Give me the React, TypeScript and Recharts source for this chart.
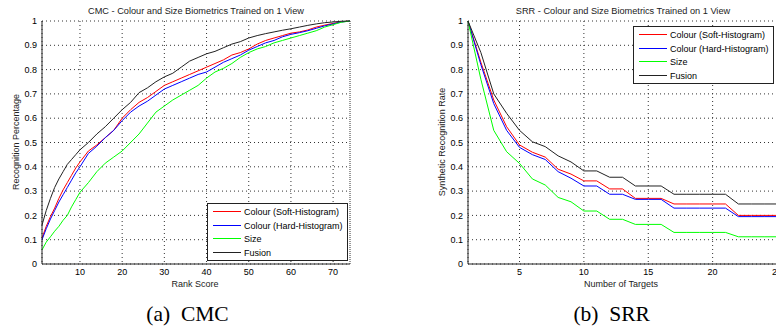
import React from 'react';
import { LineChart, Line, XAxis, YAxis, CartesianGrid, ReferenceLine } from 'recharts';

// CMC - recognition percentage per rank score
const rankScores = [1, 2, 3, 4, 5, 6, 7, 8, 9, 10, 12, 14, 16, 18, 20, 22, 24, 26, 28, 30, 32, 34, 36, 38, 40, 42, 44, 46, 48, 50, 52, 54, 56, 58, 60, 62, 64, 66, 68, 70, 72, 74];
const cmcSoft = [0.107, 0.155, 0.195, 0.23, 0.27, 0.305, 0.335, 0.365, 0.395, 0.42, 0.465, 0.49, 0.52, 0.55, 0.6, 0.635, 0.665, 0.685, 0.71, 0.735, 0.75, 0.765, 0.78, 0.795, 0.81, 0.825, 0.84, 0.86, 0.87, 0.885, 0.905, 0.92, 0.93, 0.94, 0.95, 0.955, 0.963, 0.975, 0.983, 0.99, 0.997, 1];
const cmcHard = [0.1, 0.145, 0.185, 0.22, 0.255, 0.285, 0.315, 0.345, 0.375, 0.4, 0.455, 0.485, 0.52, 0.55, 0.59, 0.625, 0.65, 0.67, 0.695, 0.72, 0.735, 0.75, 0.765, 0.78, 0.79, 0.81, 0.83, 0.845, 0.86, 0.88, 0.895, 0.91, 0.92, 0.935, 0.945, 0.952, 0.96, 0.97, 0.98, 0.988, 0.996, 1];
const cmcSize = [0.058, 0.09, 0.112, 0.135, 0.155, 0.18, 0.2, 0.235, 0.265, 0.295, 0.335, 0.38, 0.415, 0.44, 0.465, 0.5, 0.535, 0.58, 0.625, 0.65, 0.675, 0.695, 0.715, 0.735, 0.765, 0.79, 0.805, 0.825, 0.85, 0.87, 0.885, 0.895, 0.91, 0.92, 0.93, 0.94, 0.95, 0.96, 0.975, 0.985, 0.995, 1];
const cmcFusion = [0.16, 0.22, 0.27, 0.315, 0.35, 0.38, 0.41, 0.43, 0.45, 0.47, 0.5, 0.535, 0.565, 0.6, 0.635, 0.665, 0.705, 0.725, 0.75, 0.77, 0.785, 0.81, 0.835, 0.85, 0.865, 0.875, 0.89, 0.905, 0.915, 0.93, 0.94, 0.948, 0.955, 0.962, 0.968, 0.975, 0.982, 0.988, 0.993, 0.996, 0.999, 1];

// SRR - synthetic recognition rate per number of targets
const targetCounts = [1, 2, 3, 4, 5, 6, 7, 8, 9, 10, 11, 12, 13, 14, 15, 16, 17, 18, 19, 20, 21, 22, 23, 24, 25];
const srrSoft = [1, 0.83, 0.675, 0.565, 0.49, 0.46, 0.44, 0.39, 0.37, 0.342, 0.342, 0.309, 0.309, 0.27, 0.27, 0.27, 0.247, 0.247, 0.247, 0.247, 0.247, 0.2, 0.2, 0.2, 0.2];
const srrHard = [1, 0.82, 0.66, 0.55, 0.48, 0.45, 0.43, 0.38, 0.353, 0.321, 0.321, 0.287, 0.287, 0.266, 0.266, 0.266, 0.23, 0.23, 0.23, 0.23, 0.23, 0.195, 0.195, 0.195, 0.195];
const srrSize = [1, 0.76, 0.55, 0.462, 0.414, 0.35, 0.325, 0.274, 0.256, 0.218, 0.218, 0.184, 0.184, 0.163, 0.163, 0.163, 0.13, 0.13, 0.13, 0.13, 0.13, 0.112, 0.112, 0.112, 0.112];
const srrFusion = [1, 0.87, 0.7, 0.62, 0.55, 0.503, 0.483, 0.445, 0.42, 0.383, 0.383, 0.357, 0.357, 0.321, 0.321, 0.321, 0.287, 0.287, 0.287, 0.287, 0.287, 0.247, 0.247, 0.247, 0.247];

const yTicks = [0, 0.1, 0.2, 0.3, 0.4, 0.5, 0.6, 0.7, 0.8, 0.9, 1];
const rankTicks = [10, 20, 30, 40, 50, 60, 70];
const targetTicks = [5, 10, 15, 20, 25];
const rankMax = 74;

const series = [
  { key: 'soft', name: 'Colour (Soft-Histogram)', color: '#ff0000' },
  { key: 'hard', name: 'Colour (Hard-Histogram)', color: '#0000ff' },
  { key: 'size', name: 'Size', color: '#00ff00' },
  { key: 'fusion', name: 'Fusion', color: '#222222' },
];

const cmcData = rankScores.map((rank, i) => ({
  x: rank,
  soft: cmcSoft[i],
  hard: cmcHard[i],
  size: cmcSize[i],
  fusion: cmcFusion[i],
}));

const srrData = targetCounts.map((n, i) => ({
  x: n,
  soft: srrSoft[i],
  hard: srrHard[i],
  size: srrSize[i],
  fusion: srrFusion[i],
}));

const FONT = '"Liberation Sans", Arial, Helvetica, sans-serif';
const tickStyle = { fill: '#000', fontSize: 9, fontFamily: FONT };
const gridDash = '1 3';
// legend rows alternate 14/13 px so every swatch lands on a whole pixel
const rowHeights = [14, 13, 14, 13];

const LegendBox = ({ left, top }: { left: number; top: number }) => (
  <div
    style={{
      position: 'absolute',
      left,
      top,
      width: 139,
      height: 55,
      border: '1px solid #222',
      background: '#fff',
      fontFamily: FONT,
      fontSize: 9,
      color: '#000',
      paddingTop: 1,
    }}
  >
    {series.map((s, i) => (
      <div key={s.key} style={{ display: 'flex', alignItems: 'center', height: rowHeights[i] }}>
        <svg width={28} height={2} style={{ marginLeft: 5, display: 'block' }} shapeRendering="crispEdges">
          <rect x={0} y={0} width={28} height={1} fill={s.color} />
        </svg>
        <span style={{ marginLeft: 3, whiteSpace: 'nowrap', lineHeight: '12px' }}>{s.name}</span>
      </div>
    ))}
  </div>
);

const textAbs = (extra: React.CSSProperties): React.CSSProperties => ({
  position: 'absolute',
  fontFamily: FONT,
  fontSize: 9,
  lineHeight: '12px',
  color: '#222',
  textAlign: 'center',
  whiteSpace: 'nowrap',
  ...extra,
});

const captionStyle = (left: number): React.CSSProperties => ({
  position: 'absolute',
  left,
  width: 200,
  top: 303.7,
  textAlign: 'center',
  fontFamily: '"Liberation Serif", "Times New Roman", serif',
  fontSize: 21.5,
  lineHeight: 1,
  whiteSpace: 'pre',
  color: '#000',
});

const renderLines = () =>
  series.map((s) => (
    <Line
      key={s.key}
      type="linear"
      dataKey={s.key}
      name={s.name}
      stroke={s.color}
      strokeWidth={1}
      dot={false}
      isAnimationActive={false}
    />
  ));

const App: React.FC = () => {
  return (
    <div
      style={{
        position: 'fixed',
        left: 0,
        top: 0,
        width: 776,
        height: 332,
        overflow: 'hidden',
        background: '#fff',
      }}
    >
      {/* (a) CMC */}
      <div style={{ position: 'absolute', left: 0, top: 0 }}>
        <LineChart width={390} height={300} data={cmcData} margin={{ top: 21, right: 40, bottom: 16, left: 0 }}>
          <CartesianGrid stroke="#333" strokeDasharray={gridDash} />
          <XAxis
            dataKey="x"
            type="number"
            domain={[1, rankMax]}
            ticks={rankTicks}
            interval={0}
            height={20}
            tickLine={false}
            tickSize={3}
            tickMargin={2}
            axisLine={{ stroke: '#222' }}
            tick={tickStyle}
          />
          <YAxis
            type="number"
            domain={[0, 1]}
            ticks={yTicks}
            interval={0}
            width={42}
            tickLine={false}
            tickSize={3}
            tickMargin={2}
            axisLine={{ stroke: '#222' }}
            tick={tickStyle}
          />
          <ReferenceLine x={rankMax} stroke="#333" strokeDasharray={gridDash} />
          {renderLines()}
        </LineChart>
      </div>
      <LegendBox left={207} top={203} />
      <div style={textAbs({ left: 42, width: 308, top: 5, fontSize: 9.2 })}>
        CMC - Colour and Size Biometrics Trained on 1 View
      </div>
      <div style={textAbs({ left: 95, width: 200, top: 278 })}>Rank Score</div>
      <div style={textAbs({ left: 15.7 - 100, width: 200, top: 136, transform: 'rotate(-90deg)' })}>
        Recognition Percentage
      </div>

      {/* (b) SRR */}
      <div style={{ position: 'absolute', left: 390, top: 0 }}>
        <LineChart width={400} height={300} data={srrData} margin={{ top: 21, right: 13, bottom: 16, left: 0 }}>
          <CartesianGrid stroke="#333" strokeDasharray={gridDash} />
          <XAxis
            dataKey="x"
            type="number"
            domain={[1, 25]}
            ticks={targetTicks}
            interval={0}
            height={20}
            tickLine={false}
            tickSize={3}
            tickMargin={2}
            axisLine={{ stroke: '#222' }}
            tick={tickStyle}
          />
          <YAxis
            type="number"
            domain={[0, 1]}
            ticks={yTicks}
            interval={0}
            width={78}
            tickLine={false}
            tickSize={3}
            tickMargin={2}
            axisLine={{ stroke: '#222' }}
            tick={tickStyle}
          />
          {renderLines()}
        </LineChart>
      </div>
      <LegendBox left={633} top={26} />
      <div style={textAbs({ left: 468, width: 310, top: 5, fontSize: 9.2 })}>
        SRR - Colour and Size Biometrics Trained on 1 View
      </div>
      <div style={textAbs({ left: 521, width: 200, top: 278 })}>Number of Targets</div>
      <div style={textAbs({ left: 442 - 100, width: 200, top: 136, transform: 'rotate(-90deg)' })}>
        Synthetic Recognition Rate
      </div>

      {/* captions */}
      <div style={captionStyle(87.5)}>{'(a)  CMC'}</div>
      <div style={captionStyle(511.7)}>{'(b)  SRR'}</div>
    </div>
  );
};

export default App;
